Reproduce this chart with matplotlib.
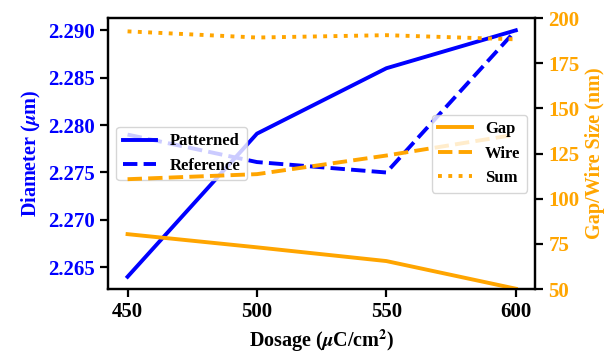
import matplotlib.pyplot as plt

plt.rcParams['font.family'] = ['Liberation Serif', 'DejaVu Serif']
plt.rcParams['font.weight'] = 'bold'
plt.rcParams['mathtext.fontset'] = 'stix'

dosage = [450, 500, 550, 600]
patterned = [2.264, 2.2791, 2.2860, 2.290]
reference = [2.279, 2.2761, 2.2750, 2.290]
gap = [80.4, 73.1, 65.5, 50.2]
wire = [110.8, 113.6, 123.9, 135.5]
total = [192.6, 189.2, 190.5, 188.2]

fig, ax1 = plt.subplots(figsize=(6.11, 3.6), dpi=100)
fig.subplots_adjust(left=0.177, right=0.876, top=0.95, bottom=0.197)

ax1.plot(dosage, patterned, color='blue', lw=2.8, label='Patterned')
ax1.plot(dosage, reference, color='blue', lw=2.8, ls='--', label='Reference')
ax1.set_ylabel(r'Diameter ($\mu$m)', color='blue', fontsize=14.5, fontweight='bold')
ax1.set_xlabel(r'Dosage ($\mu$C/cm$^2$)', fontsize=14.5, fontweight='bold')
ax1.set_xticks(dosage)
ax1.set_yticks([2.265, 2.270, 2.275, 2.280, 2.285, 2.290])
ax1.tick_params(axis='y', labelcolor='blue', labelsize=15, length=6, width=1.6)
ax1.tick_params(axis='x', labelsize=15, length=6, width=1.6)
ax1.legend(loc='center left', fontsize=12)

ax2 = ax1.twinx()
ax2.plot(dosage, gap, color='orange', lw=2.8, label='Gap')
ax2.plot(dosage, wire, color='orange', lw=2.8, ls='--', label='Wire')
ax2.plot(dosage, total, color='orange', lw=2.8, ls=':', label='Sum')
ax2.set_ylim(50, 200)
ax2.set_ylabel('Gap/Wire Size (nm)', color='orange', fontsize=14.5, fontweight='bold')
ax2.tick_params(axis='y', labelcolor='orange', labelsize=15, length=6, width=1.6)
ax2.legend(loc='center right', fontsize=12)

for ax in (ax1, ax2):
    for s in ax.spines.values():
        s.set_linewidth(1.6)

plt.savefig('out.png', dpi=100)
